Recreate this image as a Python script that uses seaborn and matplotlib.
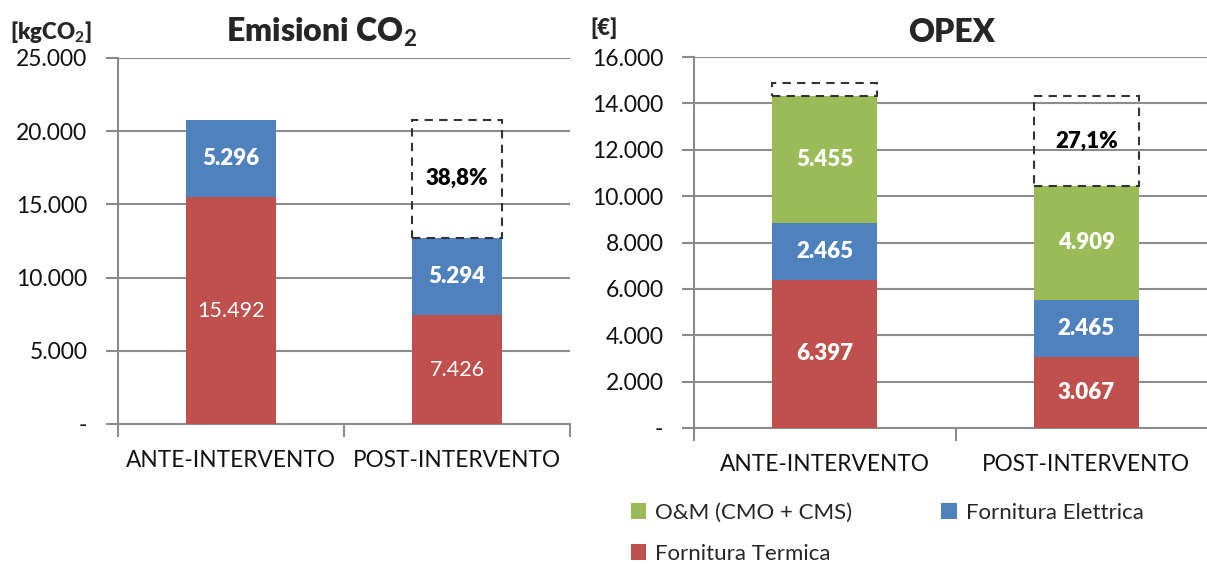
import matplotlib
matplotlib.use("Agg")
import matplotlib.pyplot as plt
import matplotlib.ticker as mticker
from matplotlib.patches import Patch
import seaborn as sns
import pandas as pd

# ---- data ----
categories = ["ANTE-INTERVENTO", "POST-INTERVENTO"]

co2_termica = [15492, 7426]
co2_elettrica = [5296, 5294]
co2_saving_label = "38,8%"

opex_termica = [6397, 3067]
opex_elettrica = [2465, 2465]
opex_om = [5455, 4909]
opex_saving_label = "27,1%"
opex_ante_extra = 570  # small dashed cap above the ANTE bar

series_names = ["O&M (CMO + CMS)", "Fornitura Termica", "Fornitura Elettrica"]

RED = "#C0504D"
BLUE = "#4F81BD"
GREEN = "#9BBB59"
GRID = "#8C8C8C"
BOLD = "heavy"

sns.set_theme(style="white")
plt.rcParams["font.family"] = ["Lato", "DejaVu Sans"]
plt.rcParams["mathtext.fontset"] = "custom"
plt.rcParams["mathtext.bf"] = "Lato:bold"
plt.rcParams["mathtext.rm"] = "Lato"

fig = plt.figure(figsize=(12.07, 5.64), dpi=100)
ax1 = fig.add_axes([118 / 1207, 1 - 424 / 564, 452 / 1207, 366 / 564])
ax2 = fig.add_axes([694 / 1207, 1 - 428 / 564, 523 / 1207, 371 / 564])

BAR_W = 0.40


def fmt_thousands(v):
    return f"{int(round(v)):,}".replace(",", ".")


def draw_stack(ax, layers, colors):
    """layers: list of value lists, bottom to top. Draws cumulative bars top-down."""
    cum = []
    run = [0] * len(categories)
    for vals in layers:
        run = [r + v for r, v in zip(run, vals)]
        cum.append(list(run))
    for tot, col in reversed(list(zip(cum, colors))):
        df = pd.DataFrame({"cat": categories, "val": tot})
        sns.barplot(data=df, x="cat", y="val", color=col, width=BAR_W,
                    saturation=1, ax=ax, zorder=3, linewidth=0)
    return cum


def style_axis(ax, ymax, step):
    ax.set_xlim(-0.5, 1.5)
    ax.set_ylim(0, ymax)
    ax.set_xlabel("")
    ax.set_ylabel("")
    ax.yaxis.set_major_locator(mticker.MultipleLocator(step))
    ax.yaxis.set_major_formatter(
        mticker.FuncFormatter(lambda v, p: "-" if v == 0 else fmt_thousands(v)))
    ax.grid(axis="y", color=GRID, linewidth=1.5, zorder=0)
    ax.set_axisbelow(True)
    for s in ["top", "right"]:
        ax.spines[s].set_visible(False)
    for s in ["left", "bottom"]:
        ax.spines[s].set_color(GRID)
        ax.spines[s].set_linewidth(1.5)
    # category boundaries as major ticks, labels on minor ticks
    ax.set_xticks([-0.5, 0.5, 1.5])
    ax.set_xticklabels([])
    ax.set_xticks([0, 1], minor=True)
    ax.set_xticklabels(categories, minor=True, fontsize=16.3, color="#111111")
    ax.tick_params(axis="x", which="major", direction="out", length=9,
                   width=1.5, color=GRID, bottom=True)
    ax.tick_params(axis="x", which="minor", length=0, pad=19, bottom=True)
    ax.tick_params(axis="y", direction="out", length=9, width=1.5,
                   color=GRID, left=True, labelsize=16.5, labelcolor="#111111",
                   pad=13)


def dashed_box(ax, x, bottom, top):
    ax.bar([x], [top - bottom], bottom=[bottom], width=BAR_W, fill=False,
           edgecolor="#333333", linestyle=(0, (4, 3)), linewidth=1.5, zorder=4)


# ---- Emissioni CO2 ----
cum1 = draw_stack(ax1, [co2_termica, co2_elettrica], [RED, BLUE])
style_axis(ax1, 25000, 5000)
dashed_box(ax1, 1, cum1[-1][1], cum1[-1][0])
for i in range(2):
    ax1.text(i, co2_termica[i] / 2, fmt_thousands(co2_termica[i]),
             ha="center", va="center", color="white", fontsize=15.5, zorder=5)
    ax1.text(i, co2_termica[i] + co2_elettrica[i] / 2, fmt_thousands(co2_elettrica[i]),
             ha="center", va="center", color="white", fontsize=16,
             fontweight=BOLD, zorder=5)
ax1.text(1, (cum1[-1][0] + cum1[-1][1]) / 2, co2_saving_label, ha="center",
         va="center", color="black", fontsize=16, fontweight=BOLD, zorder=5)

# ---- OPEX ----
cum2 = draw_stack(ax2, [opex_termica, opex_elettrica, opex_om], [RED, BLUE, GREEN])
style_axis(ax2, 16000, 2000)
dashed_box(ax2, 0, cum2[-1][0], cum2[-1][0] + opex_ante_extra)
dashed_box(ax2, 1, cum2[-1][1], cum2[-1][0])
for i in range(2):
    bottoms = [0, opex_termica[i], opex_termica[i] + opex_elettrica[i]]
    for b, v in zip(bottoms, [opex_termica[i], opex_elettrica[i], opex_om[i]]):
        ax2.text(i, b + v / 2, fmt_thousands(v), ha="center", va="center",
                 color="white", fontsize=16, fontweight=BOLD, zorder=5)
ax2.text(1, (cum2[-1][0] + cum2[-1][1]) / 2, opex_saving_label, ha="center",
         va="center", color="black", fontsize=16, fontweight=BOLD, zorder=5)

# ---- titles and units ----
fig.text(322 / 1207, 1 - 32 / 564, "Emisioni CO$_\\mathbf{2}$", ha="center",
         va="center", fontsize=23, fontweight=BOLD)
fig.text(952 / 1207, 1 - 33 / 564, "OPEX", ha="center", va="center",
         fontsize=23, fontweight=BOLD)
fig.text(10 / 1207, 1 - 32 / 564, "[kgCO$_\\mathbf{2}$]", ha="left", va="center",
         fontsize=16, fontweight=BOLD)
fig.text(590 / 1207, 1 - 28 / 564, "[€]", ha="left", va="center",
         fontsize=16, fontweight=BOLD)

# ---- legend ----
handles = [Patch(facecolor=c, edgecolor="none") for c in [GREEN, RED, BLUE]]
fig.legend(handles, series_names, loc="upper left",
           bbox_to_anchor=(622 / 1207, 1 - 494 / 564), ncol=2, frameon=False,
           fontsize=16, handlelength=0.7, handleheight=0.7, handletextpad=0.4,
           columnspacing=4.0, labelspacing=0.95, borderaxespad=0)

fig.savefig("out.png", dpi=100)
